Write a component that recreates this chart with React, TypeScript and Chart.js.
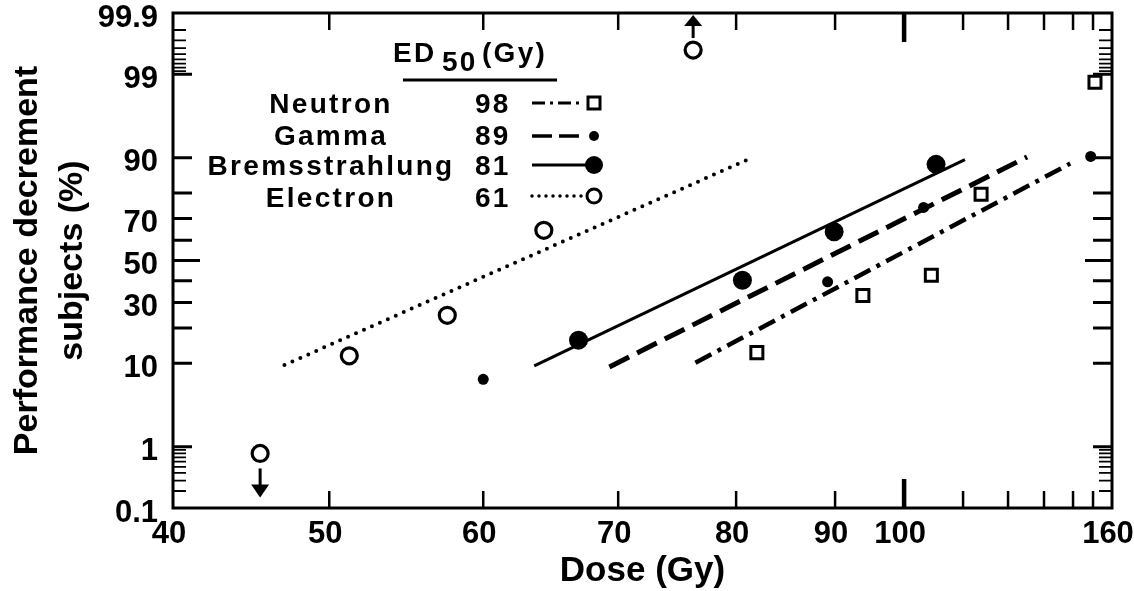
import React, { useEffect, useRef } from 'react';
import { Chart, Scale, registerables } from 'chart.js';

const FONT = "'Liberation Sans', Arial, Helvetica, sans-serif";

// ---------------- data ----------------
const seriesNames = ['Neutron', 'Gamma', 'Bremsstrahlung', 'Electron'];
const ed50Values = [98, 89, 81, 61];

const neutronDose = [82.0, 93.9, 104.5, 113.9, 151];
const neutronPct = [12.5, 33.1, 42.7, 79.6, 98.7];

const gammaDose = [60.0, 89.2, 103.2, 148.8];
const gammaPct = [6.9, 39.5, 74.6, 90.3];

const bremsDose = [66.9, 80.6, 89.9, 105.3];
const bremsPct = [16.0, 40.3, 64.0, 88.5];

const electronDose = [45.3, 51.2, 57.5, 64.3, 76.2];
const electronPct = [0.8, 11.7, 24.7, 64.7, 99.57];
const electronArrow = ['down', '', '', '', 'up'];

// fitted probit lines (end points)
const neutronLineDose = [76.4, 139];
const neutronLinePct = [10.1, 88.7];
const gammaLineDose = [69.3, 125.2];
const gammaLinePct = [9.2, 90.2];
const bremsLineDose = [63.6, 110.4];
const bremsLinePct = [9.4, 89.6];
const electronLineDose = [46.9, 81.1];
const electronLinePct = [9.6, 89.6];

// axes
const doseTickValues = [40, 50, 60, 70, 80, 90, 100, 110, 120, 130, 140, 150, 160];
const doseTickLabels = ['40', '50', '60', '70', '80', '90', '100', '', '', '', '', '', '160'];
// relative position of each dose tick along the (hand-ruled) dose axis
const doseAxisKnots = [0, 0.1664, 0.3304, 0.4741, 0.5997, 0.7051, 0.7786, 0.8414, 0.8893, 0.9276, 0.9585, 0.9798, 1];

const percentTickValues = [0.1, 1, 10, 30, 50, 70, 90, 99, 99.9];
const percentTickLabels = ['0.1', '1', '10', '30', '50', '70', '90', '99', '99.9'];
const percentMidTicks = [20, 40, 60, 80];
const percentMinorTicks = [0.2, 0.3, 0.4, 0.5, 0.6, 0.7, 0.8, 0.9, 99.1, 99.2, 99.3, 99.4, 99.5, 99.6, 99.7, 99.8];

// ---------------- math helpers ----------------
function invNorm(p: number): number {
  const a = [-3.969683028665376e1, 2.209460984245205e2, -2.759285104469687e2, 1.38357751867269e2, -3.066479806614716e1, 2.506628277459239];
  const b = [-5.447609879822406e1, 1.615858368580409e2, -1.556989798598866e2, 6.680131188771972e1, -1.328068155288572e1];
  const c = [-7.784894002430293e-3, -3.223964580411365e-1, -2.400758277161838, -2.549732539343734, 4.374664141464968, 2.938163982698783];
  const d = [7.784695709041462e-3, 3.224671290700398e-1, 2.445134137142996, 3.754408661907416];
  const pl = 0.02425;
  let q: number, r: number;
  if (p < pl) {
    q = Math.sqrt(-2 * Math.log(p));
    return (((((c[0] * q + c[1]) * q + c[2]) * q + c[3]) * q + c[4]) * q + c[5]) / ((((d[0] * q + d[1]) * q + d[2]) * q + d[3]) * q + 1);
  }
  if (p <= 1 - pl) {
    q = p - 0.5;
    r = q * q;
    return ((((((a[0] * r + a[1]) * r + a[2]) * r + a[3]) * r + a[4]) * r + a[5]) * q) / (((((b[0] * r + b[1]) * r + b[2]) * r + b[3]) * r + b[4]) * r + 1);
  }
  q = Math.sqrt(-2 * Math.log(1 - p));
  return -(((((c[0] * q + c[1]) * q + c[2]) * q + c[3]) * q + c[4]) * q + c[5]) / ((((d[0] * q + d[1]) * q + d[2]) * q + d[3]) * q + 1);
}
function normCdf(z: number): number {
  const t = 1 / (1 + 0.3275911 * Math.abs(z) / Math.SQRT2);
  const y = 1 - (((((1.061405429 * t - 1.453152027) * t) + 1.421413741) * t - 0.284496736) * t + 0.254829592) * t * Math.exp(-z * z / 2);
  return z >= 0 ? 0.5 * (1 + y) : 0.5 * (1 - y);
}

// ---------------- custom scales ----------------
class ProbitScale extends Scale {
  static id = 'probit';
  static defaults = {};
  zMin = -3;
  zMax = 3;
  determineDataLimits() {
    this.min = (this as any).options.min;
    this.max = (this as any).options.max;
  }
  buildTicks() {
    return percentTickValues.map((v) => ({ value: v }));
  }
  configure() {
    super.configure();
    this.zMin = invNorm(this.min / 100);
    this.zMax = invNorm(this.max / 100);
  }
  getPixelForValue(v: number) {
    if (v === null || v === undefined || isNaN(v)) return NaN;
    return this.getPixelForDecimal((invNorm(v / 100) - this.zMin) / (this.zMax - this.zMin));
  }
  getValueForPixel(px: number) {
    const dec = this.getDecimalForPixel(px);
    return 100 * normCdf(this.zMin + dec * (this.zMax - this.zMin));
  }
}

class DoseScale extends Scale {
  static id = 'dose';
  static defaults = {};
  determineDataLimits() {
    this.min = (this as any).options.min;
    this.max = (this as any).options.max;
  }
  buildTicks() {
    return doseTickValues.map((v) => ({ value: v }));
  }
  decimalFor(v: number) {
    const t = doseTickValues;
    if (v <= t[0]) return 0;
    for (let i = 0; i < t.length - 1; i++) {
      if (v <= t[i + 1]) {
        const f = (Math.log(v) - Math.log(t[i])) / (Math.log(t[i + 1]) - Math.log(t[i]));
        return doseAxisKnots[i] + f * (doseAxisKnots[i + 1] - doseAxisKnots[i]);
      }
    }
    return 1;
  }
  getPixelForValue(v: number) {
    if (v === null || v === undefined || isNaN(v)) return NaN;
    return this.getPixelForDecimal(this.decimalFor(v));
  }
  getValueForPixel(px: number) {
    const dec = this.getDecimalForPixel(px);
    const k = doseAxisKnots;
    for (let i = 0; i < k.length - 1; i++) {
      if (dec <= k[i + 1]) {
        const f = (dec - k[i]) / (k[i + 1] - k[i]);
        const t = doseTickValues;
        return Math.exp(Math.log(t[i]) + f * (Math.log(t[i + 1]) - Math.log(t[i])));
      }
    }
    return doseTickValues[doseTickValues.length - 1];
  }
}

Chart.register(...registerables, ProbitScale, DoseScale);

const pts = (xs: number[], ys: number[]) => xs.map((x, i) => ({ x, y: ys[i] }));

// ---------------- plugins ----------------
const frameTicksPlugin = {
  id: 'frameTicks',
  beforeDatasetsDraw(chart: any) {
    const { ctx, chartArea: a, scales } = chart;
    const xs = scales.x;
    const ys = scales.y;
    ctx.save();
    ctx.strokeStyle = '#000';
    ctx.lineCap = 'butt';
    // dose ticks, bottom and top
    doseTickValues.forEach((v) => {
      if (v === 40 || v === 160) return;
      const px = xs.getPixelForValue(v);
      const major = v === 100;
      ctx.lineWidth = major ? 4.5 : 2.5;
      const len = major ? 29 : 17;
      ctx.beginPath();
      ctx.moveTo(px, a.bottom);
      ctx.lineTo(px, a.bottom - len);
      ctx.moveTo(px, a.top);
      ctx.lineTo(px, a.top + len);
      ctx.stroke();
    });
    const yTick = (v: number, len: number, w: number) => {
      const py = ys.getPixelForValue(v);
      ctx.lineWidth = w;
      ctx.beginPath();
      ctx.moveTo(a.left, py);
      ctx.lineTo(a.left + len, py);
      ctx.moveTo(a.right, py);
      ctx.lineTo(a.right - len, py);
      ctx.stroke();
    };
    percentTickValues.forEach((v) => {
      if (v === 0.1 || v === 99.9) return;
      yTick(v, v === 50 ? 27 : 19, 3);
    });
    percentMidTicks.forEach((v) => yTick(v, 19, 3));
    percentMinorTicks.forEach((v) => yTick(v, 13, 1.8));
    // frame
    ctx.lineWidth = 3;
    ctx.strokeRect(a.left, a.top, a.right - a.left, a.bottom - a.top);
    ctx.restore();
  },
  afterDatasetsDraw(chart: any) {
    const { ctx, scales } = chart;
    const xs = scales.x;
    const ys = scales.y;
    ctx.save();
    ctx.fillStyle = '#000';
    ctx.strokeStyle = '#000';
    // arrows on out-of-range electron points
    electronArrow.forEach((dir, i) => {
      if (!dir) return;
      const px = xs.getPixelForValue(electronDose[i]);
      const py = ys.getPixelForValue(electronPct[i]);
      const up = dir === 'up';
      const s = up ? -1 : 1;
      const start = up ? 12 : 15;
      const base = up ? 24 : 31;
      const tip = up ? 35 : 44;
      ctx.lineWidth = 3;
      ctx.beginPath();
      ctx.moveTo(px, py + s * start);
      ctx.lineTo(px, py + s * (base + 2));
      ctx.stroke();
      ctx.beginPath();
      ctx.moveTo(px, py + s * tip);
      ctx.lineTo(px - 9, py + s * base);
      ctx.lineTo(px + 9, py + s * base);
      ctx.closePath();
      ctx.fill();
    });

    // legend block
    ctx.font = `bold 28px ${FONT}`;
    (ctx as any).letterSpacing = '2.3px';
    ctx.textBaseline = 'alphabetic';
    ctx.textAlign = 'left';
    ctx.fillText('ED', 393, 62);
    ctx.fillText('50', 442, 71);
    ctx.fillText('(Gy)', 482, 62);
    ctx.lineWidth = 3;
    ctx.beginPath();
    ctx.moveTo(403, 80);
    ctx.lineTo(557, 80);
    ctx.stroke();

    const rowY = [113, 145, 175, 207];
    seriesNames.forEach((name, i) => {
      ctx.textAlign = 'center';
      ctx.fillText(name, 331, rowY[i]);
      ctx.textAlign = 'left';
      ctx.fillText(String(ed50Values[i]), 475, rowY[i]);
    });
    (ctx as any).letterSpacing = '0px';

    const lx0 = 532;
    const lx1 = 583;
    const mx = 594;
    // Neutron sample
    let yy = 103;
    ctx.lineWidth = 3;
    ctx.setLineDash([13, 5, 3, 5]);
    ctx.beginPath(); ctx.moveTo(lx0, yy); ctx.lineTo(lx1, yy); ctx.stroke();
    ctx.setLineDash([]);
    ctx.fillStyle = '#fff';
    ctx.fillRect(mx - 6, yy - 6, 12, 12);
    ctx.lineWidth = 3;
    ctx.strokeRect(mx - 6, yy - 6, 12, 12);
    ctx.fillStyle = '#000';
    // Gamma sample
    yy = 136;
    ctx.lineWidth = 3.5;
    ctx.setLineDash([20, 7]);
    ctx.beginPath(); ctx.moveTo(lx0, yy); ctx.lineTo(lx1, yy); ctx.stroke();
    ctx.setLineDash([]);
    ctx.beginPath(); ctx.arc(mx, yy, 5, 0, Math.PI * 2); ctx.fill();
    // Bremsstrahlung sample
    yy = 165;
    ctx.lineWidth = 3;
    ctx.beginPath(); ctx.moveTo(lx0, yy); ctx.lineTo(mx, yy); ctx.stroke();
    ctx.beginPath(); ctx.arc(mx, yy, 9, 0, Math.PI * 2); ctx.fill();
    // Electron sample
    yy = 196;
    ctx.lineWidth = 3.5;
    ctx.lineCap = 'round';
    ctx.setLineDash([0, 7]);
    ctx.beginPath(); ctx.moveTo(lx0, yy); ctx.lineTo(lx1, yy); ctx.stroke();
    ctx.setLineDash([]);
    ctx.lineCap = 'butt';
    ctx.fillStyle = '#fff';
    ctx.beginPath(); ctx.arc(mx, yy, 7, 0, Math.PI * 2); ctx.fill();
    ctx.lineWidth = 3;
    ctx.stroke();
    ctx.restore();
  },
};

export default function App() {
  const ref = useRef<HTMLCanvasElement | null>(null);
  useEffect(() => {
    if (!ref.current) return;
    const lineBase = { showLine: true, pointRadius: 0, borderColor: '#000', fill: false, clip: false as any, order: 2 };
    const chart = new Chart(ref.current, {
      type: 'scatter',
      data: {
        datasets: [
          {
            label: 'Neutron', data: pts(neutronDose, neutronPct), pointStyle: 'rect', pointRadius: 8.5,
            backgroundColor: '#fff', borderColor: '#000', pointBorderWidth: 3, borderWidth: 3, clip: false as any, order: 1,
          },
          {
            label: 'Gamma', data: pts(gammaDose, gammaPct), pointStyle: 'circle', pointRadius: 5.5,
            backgroundColor: '#000', borderColor: '#000', pointBorderWidth: 0, clip: false as any, order: 1,
          },
          {
            label: 'Bremsstrahlung', data: pts(bremsDose, bremsPct), pointStyle: 'circle', pointRadius: 9.5,
            backgroundColor: '#000', borderColor: '#000', pointBorderWidth: 0, clip: false as any, order: 1,
          },
          {
            label: 'Electron', data: pts(electronDose, electronPct), pointStyle: 'circle', pointRadius: 8,
            backgroundColor: '#fff', borderColor: '#000', pointBorderWidth: 3.2, clip: false as any, order: 1,
          },
          { ...lineBase, label: 'Neutron fit', data: pts(neutronLineDose, neutronLinePct), borderWidth: 4.5, borderDash: [18, 7, 4, 7] },
          { ...lineBase, label: 'Gamma fit', data: pts(gammaLineDose, gammaLinePct), borderWidth: 5, borderDash: [22, 9] },
          { ...lineBase, label: 'Bremsstrahlung fit', data: pts(bremsLineDose, bremsLinePct), borderWidth: 3 },
          {
            ...lineBase, label: 'Electron fit', data: pts(electronLineDose, electronLinePct), borderWidth: 4,
            borderDash: [0, 8.7], borderCapStyle: 'round',
          },
        ] as any,
      },
      options: {
        animation: false,
        responsive: false,
        events: [],
        layout: { padding: { top: 13, right: 22, left: 0, bottom: 0 } },
        plugins: { legend: { display: false }, tooltip: { enabled: false } },
        scales: {
          x: {
            type: 'dose' as any,
            position: 'bottom',
            min: 40,
            max: 160,
            grid: { display: false, drawTicks: false },
            border: { display: false },
            ticks: {
              autoSkip: false,
              maxRotation: 0,
              minRotation: 0,
              padding: 8,
              labelOffset: -4,
              color: '#000',
              font: { family: FONT, size: 31, weight: 'bold' },
              callback: (v: any) => doseTickLabels[doseTickValues.indexOf(Number(v))] ?? '',
            },
            title: {
              display: true,
              text: 'Dose (Gy)',
              color: '#000',
              font: { family: FONT, size: 35, weight: 'bold', lineHeight: 1.1 },
              padding: 0,
            },
            afterFit: (s: any) => {
              s.height = 83;
              s.paddingLeft = 0;
              s.paddingRight = 0;
            },
          } as any,
          y: {
            type: 'probit' as any,
            position: 'left',
            min: 0.1,
            max: 99.9,
            grid: { display: false, drawTicks: false },
            border: { display: false },
            ticks: {
              autoSkip: false,
              padding: 15,
              labelOffset: 5,
              color: '#000',
              font: { family: FONT, size: 31, weight: 'bold' },
              callback: (v: any) => percentTickLabels[percentTickValues.indexOf(Number(v))] ?? '',
            },
            title: {
              display: true,
              text: ['Performance decrement', 'subjects (%)'],
              color: '#000',
              font: { family: FONT, size: 34, weight: 'bold', lineHeight: 1.3 },
              padding: { top: 6, bottom: 0 },
            },
            afterFit: (s: any) => {
              s.width = 173;
              s.paddingTop = 0;
              s.paddingBottom = 0;
            },
          } as any,
        },
      },
      plugins: [frameTicksPlugin],
    } as any);
    return () => chart.destroy();
  }, []);

  return (
    <div style={{ position: 'fixed', left: 0, top: 0, width: 1134, height: 591, background: '#fff' }}>
      <canvas ref={ref} width={1134} height={591} style={{ display: 'block', width: 1134, height: 591 }} />
    </div>
  );
}
